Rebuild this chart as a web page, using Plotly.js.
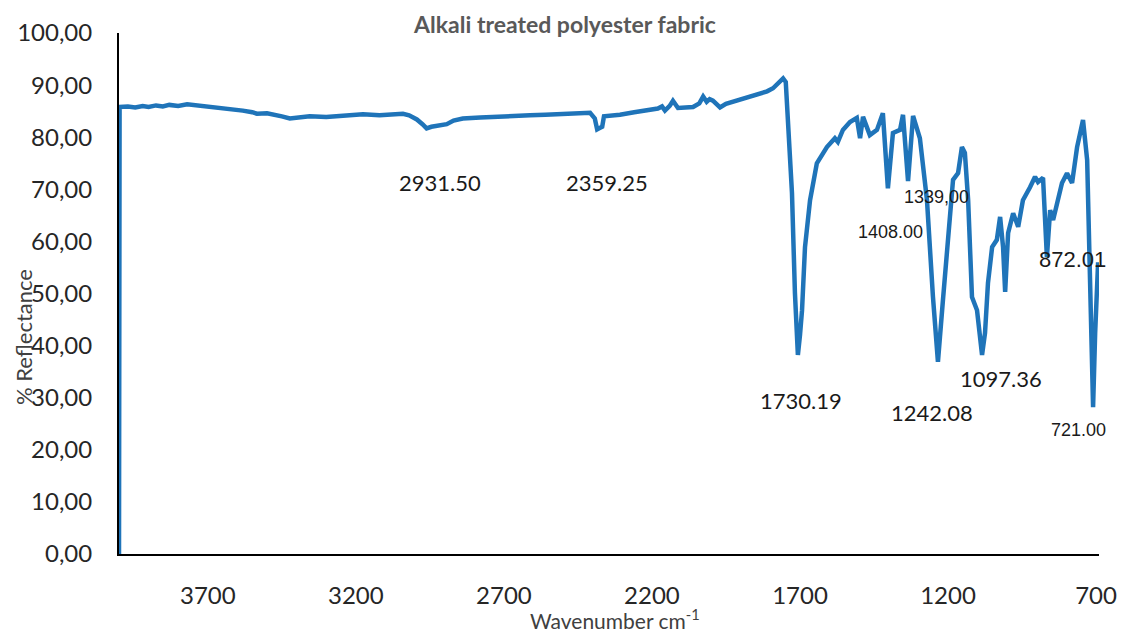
<!DOCTYPE html>
<html>
<head>
<meta charset="utf-8">
<script src="https://cdn.plot.ly/plotly-3.0.1.min.js"></script>
<style>html,body{margin:0;padding:0;background:#fff;}#chart{width:1126px;height:635px;}</style>
</head>
<body>
<div id="chart"></div>
<script>
// Wavenumber (cm-1)
var wavenumber = [4000,3998,3970,3945,3920,3900,3875,3852,3830,3800,3770,3737,3700,3659,3620,3582,3550,3534,3500,3480,3450,3423,3400,3356,3300,3244,3200,3176,3120,3085,3041,3020,2994,2975,2961,2945,2926,2893,2870,2839,2780,2724,2660,2612,2560,2500,2450,2409,2393,2385,2375,2368,2362,2330,2308,2260,2218,2180,2166,2156,2140,2129,2112,2080,2061,2040,2027,2015,2005,1994,1982,1970,1950,1926,1890,1859,1835,1811,1791,1778,1762,1757,1748,1727,1717,1707,1700,1693,1683,1666,1643,1609,1582,1572,1555,1531,1508,1497,1487,1464,1440,1420,1403,1386,1362,1352,1335,1318,1295,1271,1251,1234,1217,1200,1183,1166,1153,1143,1132,1119,1102,1085,1075,1065,1051,1035,1024,1014,1007,997,980,963,947,923,906,896,879,866,855,845,832,815,798,781,764,744,730,720,710,703,693];
// % Reflectance
var reflectance = [0,85.8,85.9,85.7,86.0,85.8,86.1,85.9,86.2,86.0,86.3,86.1,85.9,85.7,85.4,85.1,84.8,84.5,84.6,84.4,84.0,83.6,83.8,84.0,83.9,84.1,84.2,84.4,84.2,84.3,84.5,84.2,83.4,82.5,81.7,82.0,82.2,82.5,83.2,83.6,83.8,84.0,84.1,84.2,84.3,84.5,84.6,84.7,83.6,81.5,81.8,82.0,84.0,84.1,84.3,84.8,85.2,85.5,85.9,85.1,86.0,87.0,85.6,85.7,85.8,86.5,87.8,86.8,87.3,87.0,86.2,85.7,86.4,86.8,87.3,87.8,88.3,88.8,89.4,90.1,91.1,91.3,90.6,69.3,50.1,38.2,42.0,46.8,58.9,67.9,75.0,78.1,79.8,79.1,81.4,82.9,83.7,79.8,83.9,80.4,81.4,84.6,70.2,80.8,81.4,84.3,71.6,84.1,79.8,67.9,49.5,36.9,48.8,60.3,71.8,73.1,78.1,77.0,67.9,49.3,46.8,38.2,42.4,52.0,58.9,60.3,64.7,58.9,50.3,61.6,65.4,62.8,67.9,70.4,72.4,71.4,72.2,57.0,66.0,64.1,67.4,71.2,73.1,71.2,78.1,83.3,75.6,48.8,28.2,42.4,56.0];

var xTickVals = [3700,3200,2700,2200,1700,1200,700];
var xTickText = ['3700','3200','2700','2200','1700','1200','700'];
var yTickVals = [0,10,20,30,40,50,60,70,80,90,100];
var yTickText = ['0,00','10,00','20,00','30,00','40,00','50,00','60,00','70,00','80,00','90,00','100,00'];

var peakLabels = ['2931.50','2359.25','1730.19','1242.08','1097.36','721.00','1408.00','1339,00','872.01'];
var peakLabelX = [2916,2351,1696,1253,1020,760,1395,1240,780];
var peakLabelY = [71.4,71.4,29.4,27.1,33.6,23.8,61.8,68.5,56.6];

var titleText = 'Alkali treated polyester fabric';
var xTitle = 'Wavenumber cm<sup>-1</sup>';
var yTitle = '% Reflectance';

var calibriLike = 'Lato, "Open Sans", sans-serif';
var arialLike = '"Liberation Sans", Arial, sans-serif';
var labelFonts = [
  {family: calibriLike, size: 22}, {family: calibriLike, size: 22}, {family: calibriLike, size: 22},
  {family: calibriLike, size: 22}, {family: calibriLike, size: 22}, {family: arialLike, size: 18},
  {family: arialLike, size: 18}, {family: arialLike, size: 18}, {family: arialLike, size: 22}
];

var annotations = peakLabels.map(function (t, i) {
  return {
    text: t, x: peakLabelX[i], y: peakLabelY[i], xref: 'x', yref: 'y',
    showarrow: false, xanchor: 'center', yanchor: 'middle',
    font: {family: labelFonts[i].family, size: labelFonts[i].size, color: '#1a1a1a'}
  };
});
annotations.push({
  text: yTitle, textangle: -90, xref: 'paper', yref: 'paper',
  x: (23 - 119) / 980, y: (554 - 337) / 521, xanchor: 'center', yanchor: 'middle',
  showarrow: false, font: {family: calibriLike, size: 22, color: '#404040'}
});
annotations.push({
  text: xTitle, xref: 'paper', yref: 'paper',
  x: (615 - 119) / 980, y: -(619 - 554) / 521, xanchor: 'center', yanchor: 'middle',
  showarrow: false, font: {family: calibriLike, size: 21, color: '#404040'}
});

var trace = {
  x: wavenumber, y: reflectance, type: 'scatter', mode: 'lines',
  line: {color: '#1f74b9', width: 4.5}, hoverinfo: 'skip'
};

var layout = {
  width: 1126, height: 635,
  margin: {l: 119, r: 27, t: 33, b: 81, pad: 0},
  paper_bgcolor: '#ffffff', plot_bgcolor: '#ffffff',
  showlegend: false,
  title: {
    text: '<b>' + titleText + '</b>', x: 565 / 1126, xanchor: 'center',
    y: 1 - 25 / 635, yanchor: 'middle',
    font: {family: calibriLike, size: 23, color: '#595959'}
  },
  xaxis: {
    range: [4000, 690], tickvals: xTickVals, ticktext: xTickText,
    showgrid: false, zeroline: false, showline: true, linecolor: '#000', linewidth: 2,
    ticks: '', ticklabelstandoff: 19,
    tickfont: {family: calibriLike, size: 24, color: '#262626'}
  },
  yaxis: {
    range: [0, 100], tickvals: yTickVals, ticktext: yTickText,
    showgrid: false, zeroline: false, showline: true, linecolor: '#000', linewidth: 2,
    ticks: '', ticklabelstandoff: 20,
    tickfont: {family: calibriLike, size: 24, color: '#262626'}
  },
  annotations: annotations
};

Plotly.newPlot('chart', [trace], layout, {displayModeBar: false, staticPlot: true});
</script>
</body>
</html>
